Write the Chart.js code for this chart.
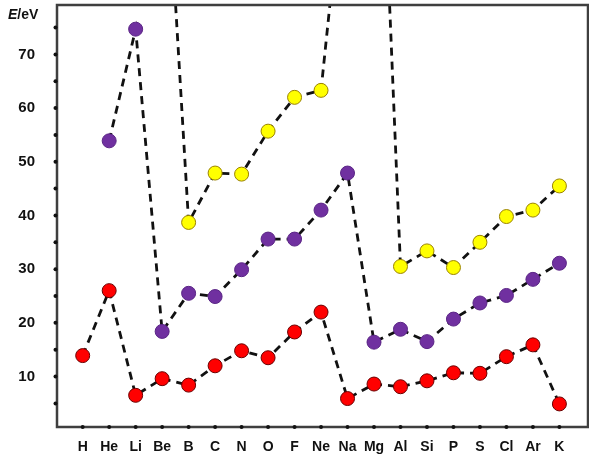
<!DOCTYPE html>
<html>
<head>
<meta charset="utf-8">
<script src="https://cdn.jsdelivr.net/npm/chart.js@4.4.1/dist/chart.umd.min.js"></script>
<style>
  html, body { margin: 0; padding: 0; background: #fff; }
  #wrap { width: 589px; height: 462px; }
</style>
</head>
<body>
<div id="wrap"><canvas id="ieChart" width="589" height="462"></canvas></div>
<script>
// Ionisation energies
const elements = ["H", "He", "Li", "Be", "B", "C", "N", "O", "F", "Ne",
  "Na", "Mg", "Al", "Si", "P", "S", "Cl", "Ar", "K"];
const firstIE = [13.9, 26.0, 6.5, 9.6, 8.4, 12.0, 14.8, 13.5, 18.3, 22.0,
  5.9, 8.6, 8.1, 9.2, 10.7, 10.6, 13.7, 15.9, 4.9];
const secondIE = [null, 53.9, 74.7, 18.4, 25.5, 24.9, 29.9, 35.6, 35.6, 41.0,
  47.9, 16.4, 18.8, 16.5, 20.7, 23.7, 25.1, 28.1, 31.1];
// Li, Be, Na, Mg run off the top; estimated from the slope of the dashes
const thirdIE = [null, null, 122, 121, 38.7, 47.9, 47.7, 55.7, 62.0, 63.3,
  111, 149, 30.5, 33.4, 30.3, 35.0, 39.8, 41.0, 45.5];
const yTicks = [5, 10, 15, 20, 25, 30, 35, 40, 45, 50, 55, 60, 65, 70, 75];

const toPoints = (arr) => arr.map((v, i) => ({ x: i, y: v }));

const series = (label, values, fill, border) => ({
  label: label,
  data: toPoints(values),
  borderColor: "#111",
  borderWidth: 2.8,
  borderDash: [8, 6],
  pointRadius: 7,
  pointBackgroundColor: fill,
  pointBorderColor: border,
  pointBorderWidth: 1,
  spanGaps: false,
  tension: 0,
});

// frame, tick dots and the E/eV label
const framePlugin = {
  id: "frame",
  afterDraw(chart) {
    const { ctx, chartArea: a, scales } = chart;
    ctx.save();
    ctx.strokeStyle = "#3f3f3f";
    ctx.lineWidth = 2.5;
    ctx.strokeRect(a.left, a.top, a.right - a.left, a.bottom - a.top);

    ctx.fillStyle = "#111";
    yTicks.forEach((t) => {
      const y = scales.y.getPixelForValue(t);
      ctx.beginPath();
      ctx.arc(a.left - 1.5, y, 2, 0, Math.PI * 2);
      ctx.fill();
    });
    elements.forEach((_, i) => {
      const x = scales.x.getPixelForValue(i);
      ctx.beginPath();
      ctx.arc(x, a.bottom, 2, 0, Math.PI * 2);
      ctx.fill();
    });

    ctx.textBaseline = "middle";
    ctx.textAlign = "left";
    ctx.font = "italic bold 14px 'Liberation Sans', Arial, sans-serif";
    ctx.fillText("E", 8, 15);
    const w = ctx.measureText("E").width;
    ctx.font = "bold 14px 'Liberation Sans', Arial, sans-serif";
    ctx.fillText("/eV", 8 + w, 15);
    ctx.restore();
  },
};

const ieChart = document.getElementById("ieChart").getContext("2d");
const myChart = new Chart(ieChart, {
  type: "line",
  data: {
    datasets: [
      series("1st", firstIE, "#ff0000", "#6a0000"),
      series("2nd", secondIE, "#7030a0", "#5a2585"),
      series("3rd", thirdIE, "#ffff00", "#9a8200"),
    ],
  },
  options: {
    responsive: false,
    animation: false,
    layout: { autoPadding: false, padding: { top: 5, right: 1, left: 0, bottom: 0 } },
    scales: {
      x: {
        type: "linear",
        min: -0.97,
        max: 19.08,
        afterBuildTicks: (axis) => {
          axis.ticks = elements.map((_, i) => ({ value: i }));
        },
        afterFit: (axis) => {
          axis.height = 35;
          axis.paddingLeft = 0;
          axis.paddingRight = 0;
        },
        ticks: {
          autoSkip: false,
          maxRotation: 0,
          padding: 12,
          color: "#111",
          font: { family: "'Liberation Sans', Arial, sans-serif", size: 14, weight: "bold" },
          callback: (v) => elements[v] || "",
        },
        grid: { display: false, drawTicks: false },
        border: { display: false },
      },
      y: {
        min: 0.6,
        max: 79.2,
        afterBuildTicks: (axis) => {
          axis.ticks = yTicks.map((v) => ({ value: v }));
        },
        afterFit: (axis) => {
          axis.width = 57;
          axis.paddingTop = 0;
          axis.paddingBottom = 0;
        },
        ticks: {
          padding: 22,
          color: "#111",
          font: { family: "'Liberation Sans', Arial, sans-serif", size: 15, weight: "bold" },
          callback: (v) => (v % 10 === 0 ? v : ""),
        },
        grid: { display: false, drawTicks: false },
        border: { display: false },
      },
    },
    plugins: {
      legend: { display: false },
      tooltip: { enabled: false },
    },
  },
  plugins: [framePlugin],
});
</script>
</body>
</html>
